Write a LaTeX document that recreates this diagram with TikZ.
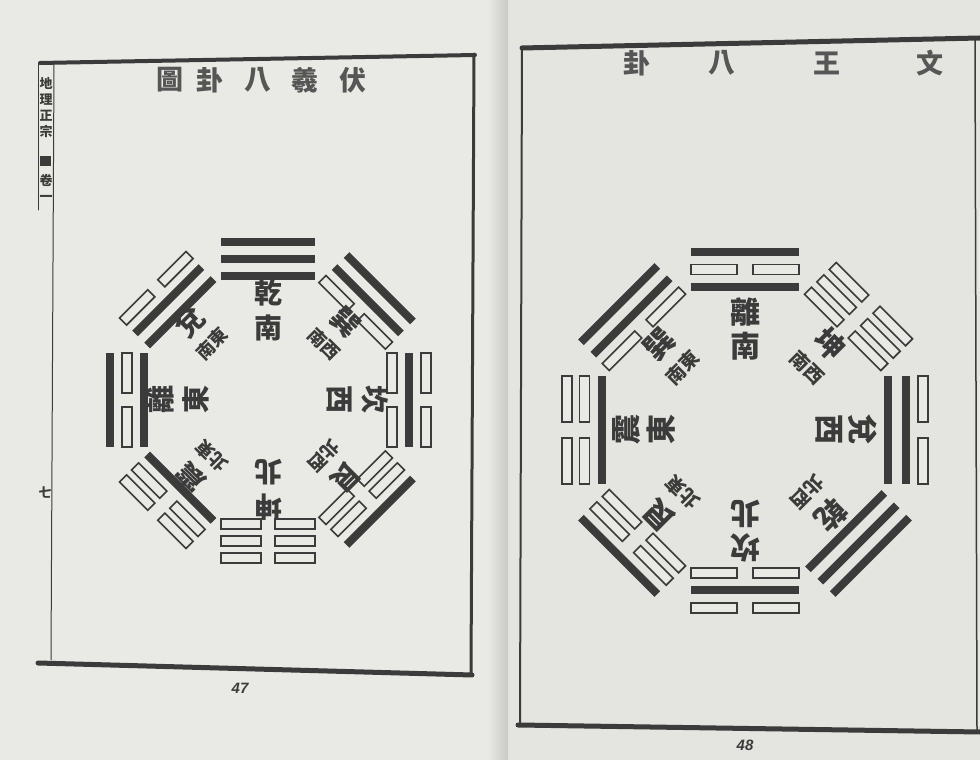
\documentclass[tikz,border=0pt]{standalone}
\usepackage{fontspec}
\usepackage{tikz}
\newfontfamily\cjk{Noto Sans CJK TC}
\newfontfamily\pagenum{Liberation Sans}

\definecolor{paper}{HTML}{E9E9E5}
\definecolor{paperR}{HTML}{E4E4E0}
\definecolor{ink}{HTML}{3B3B3B}
\definecolor{titleink}{HTML}{565656}

\tikzset{
  solidyao/.style={fill=ink},
  brokenyao/.style={draw=ink, line width=1.6pt, fill=paper},
  frameline/.style={draw=ink, line cap=round},
  titlechar/.style={font=\cjk\bfseries\fontsize{27}{27}\selectfont, text=titleink, inner sep=0pt},
  marginchar/.style={font=\cjk\bfseries\fontsize{13}{16}\selectfont, text=ink, inner sep=0pt, align=center},
  bigL/.style={font=\cjk\bfseries\fontsize{28}{28}\selectfont, text=ink, inner sep=0pt},
  smallL/.style={font=\cjk\bfseries\fontsize{18}{18}\selectfont, text=ink, inner sep=0pt},
  bigR/.style={font=\cjk\bfseries\fontsize{30}{30}\selectfont, text=ink, inner sep=0pt},
  smallR/.style={font=\cjk\bfseries\fontsize{19}{19}\selectfont, text=ink, inner sep=0pt},
  pageno/.style={font=\pagenum\bfseries\itshape\fontsize{15}{15}\selectfont, text=ink, inner sep=0pt}
}

% one trigram: #1 = direction angle, #2 = lines from inside out (1 yang, 0 yin)
\newcommand{\gua}[2]{%
  \begin{scope}[rotate=#1-90]
    \foreach \yao [count=\k from 0] in {#2} {
      \pgfmathsetmacro{\rr}{\guarin+\k*\guagap}
      \ifnum\yao=1
        \path[solidyao] (-\gualen/2,\rr-\guathk/2) rectangle (\gualen/2,\rr+\guathk/2);
      \else
        \path[brokenyao] (-\gualen/2,\rr-\guathk/2-1) rectangle (-\guabrk/2,\rr+\guathk/2+1);
        \path[brokenyao] (\guabrk/2,\rr-\guathk/2-1) rectangle (\gualen/2,\rr+\guathk/2+1);
      \fi
    }
  \end{scope}}

\begin{document}
\begin{tikzpicture}[x=1pt,y=1pt]

  \useasboundingbox (0,0) rectangle (980,760);
  \fill[paper] (0,0) rectangle (980,760);
  \fill[paperR] (508,0) rectangle (980,760);
  \shade[left color=paper, right color=paper!86!black] (488,0) rectangle (508,760);

  % left page frame
  \draw[frameline, line width=4pt] (40,697) -- (475,705);
  \draw[frameline, line width=3pt] (474,706) -- (471,85);
  \draw[frameline, line width=5pt] (38,97) -- (472,85);
  \draw[frameline, line width=1pt] (54,697) -- (51,100);
  \draw[frameline, line width=0.8pt] (38,697) -- (38,550);

  % margin of the left page
  \node[marginchar] (book) at (46,652) {地\\理\\正\\宗};
  \fill[ink] (40,604) rectangle (51,594);
  \node[marginchar] (juan) at (46,572) {卷\\一};
  \node[marginchar] (leaf) at (45,268) {七};

  % right page frame
  \draw[frameline, line width=5pt] (522,712) -- (980,722);
  \draw[frameline, line width=2pt] (522,712) -- (520,35);
  \draw[frameline, line width=5pt] (518,35) -- (980,28);
  \draw[frameline, line width=1.5pt] (975,720) -- (977,30);

  % titles, read right to left
  \begin{scope}[every node/.style={titlechar}]
    \node (fu)   at (353,680) {伏};
    \node (xi)   at (305,680) {羲};
    \node (ba)   at (258,680) {八};
    \node (gua)  at (210,680) {卦};
    \node (tu)   at (170,680) {圖};

    \node (wen)  at (930,697) {文};
    \node (wang) at (827,697) {王};
    \node (baR)  at (722,697) {八};
    \node (guaR) at (637,697) {卦};
  \end{scope}

  % Fuxi arrangement
  \begin{scope}[shift={(268,360)}]
    \def\guarin{124}\def\guagap{17}\def\gualen{94}\def\guabrk{14}\def\guathk{8}
    \gua{90}{1,1,1}
    \gua{45}{0,1,1}
    \gua{0}{0,1,0}
    \gua{-45}{0,0,1}
    \gua{-90}{0,0,0}
    \gua{-135}{1,0,0}
    \gua{180}{1,0,1}
    \gua{135}{1,1,0}

    \node[bigL, rotate=0]      (qianL)   at (90:107)  {乾};
    \node[bigL, rotate=0]      (qianL-s) at (90:72)   {南};
    \node[bigL, rotate=-45]    (xunL)    at (45:110)  {巽};
    \node[smallL, rotate=-45]  (xunL-s)  at (45:79)   {南西};
    \node[bigL, rotate=-90]    (kanL)    at (0:107)   {坎};
    \node[bigL, rotate=-90]    (kanL-s)  at (0:72)    {西};
    \node[bigL, rotate=-135]   (genL)    at (-45:110) {艮};
    \node[smallL, rotate=-135] (genL-s)  at (-45:79)  {北西};
    \node[bigL, rotate=180]    (kunL)    at (-90:107) {坤};
    \node[bigL, rotate=180]    (kunL-s)  at (-90:72)  {北};
    \node[bigL, rotate=135]    (zhenL)   at (-135:110){震};
    \node[smallL, rotate=135]  (zhenL-s) at (-135:79) {北東};
    \node[bigL, rotate=90]     (liL)     at (180:107) {離};
    \node[bigL, rotate=90]     (liL-s)   at (180:72)  {東};
    \node[bigL, rotate=45]     (duiL)    at (135:110) {兌};
    \node[smallL, rotate=45]   (duiL-s)  at (135:79)  {南東};
  \end{scope}

  % King Wen arrangement
  \begin{scope}[shift={(745,330)}]
    \def\guarin{143}\def\guagap{17.5}\def\gualen{108}\def\guabrk{16}\def\guathk{8}
    \gua{90}{1,0,1}
    \gua{45}{0,0,0}
    \gua{0}{1,1,0}
    \gua{-45}{1,1,1}
    \gua{-90}{0,1,0}
    \gua{-135}{0,0,1}
    \gua{180}{1,0,0}
    \gua{135}{0,1,1}

    \node[bigR, rotate=0]      (liR)     at (90:118)  {離};
    \node[bigR, rotate=0]      (liR-s)   at (90:84)   {南};
    \node[bigR, rotate=-45]    (kunR)    at (45:121)  {坤};
    \node[smallR, rotate=-45]  (kunR-s)  at (45:88)   {南西};
    \node[bigR, rotate=-90]    (duiR)    at (0:118)   {兌};
    \node[bigR, rotate=-90]    (duiR-s)  at (0:84)    {西};
    \node[bigR, rotate=-135]   (qianR)   at (-45:121) {乾};
    \node[smallR, rotate=-135] (qianR-s) at (-45:88)  {北西};
    \node[bigR, rotate=180]    (kanR)    at (-90:118) {坎};
    \node[bigR, rotate=180]    (kanR-s)  at (-90:84)  {北};
    \node[bigR, rotate=135]    (genR)    at (-135:121){艮};
    \node[smallR, rotate=135]  (genR-s)  at (-135:88) {北東};
    \node[bigR, rotate=90]     (zhenR)   at (180:118) {震};
    \node[bigR, rotate=90]     (zhenR-s) at (180:84)  {東};
    \node[bigR, rotate=45]     (xunR)    at (135:121) {巽};
    \node[smallR, rotate=45]   (xunR-s)  at (135:88)  {南東};
  \end{scope}

  % page numbers
  \node[pageno] (p47) at (240,72) {47};
  \node[pageno] (p48) at (745,15) {48};

\end{tikzpicture}
\end{document}
